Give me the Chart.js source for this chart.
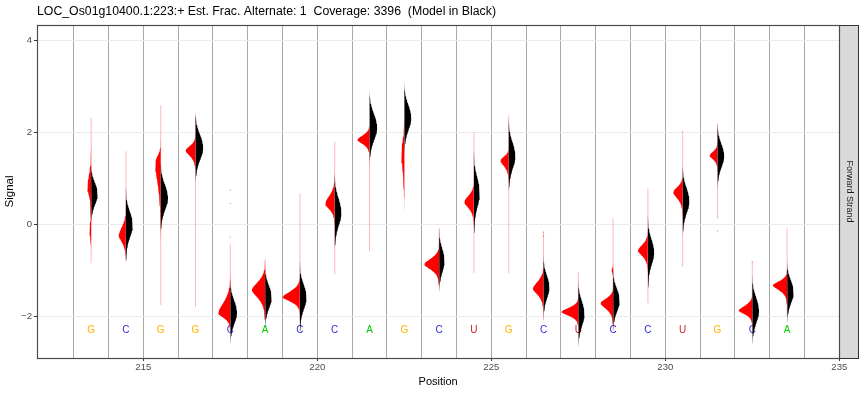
<!DOCTYPE html>
<html><head><meta charset="utf-8">
<script src="https://cdn.jsdelivr.net/npm/chart.js@4.4.1/dist/chart.umd.min.js"></script>
<style>html,body{margin:0;padding:0;background:#fff}</style>
</head><body>
<canvas id="c" width="866" height="394"></canvas>
<script>
// ---------- data ----------
const titleText = 'LOC_Os01g10400.1:223:+ Est. Frac. Alternate: 1  Coverage: 3396  (Model in Black)';
const bases = ['G','C','G','G','C','A','C','C','A','G','C','U','G','C','U','C','C','U','G','C','A'];
const positions = [213.5,214.5,215.5,216.5,217.5,218.5,219.5,220.5,221.5,222.5,223.5,224.5,225.5,226.5,227.5,228.5,229.5,230.5,231.5,232.5,233.5];
const boundaries = [213,214,215,216,217,218,219,220,221,222,223,224,225,226,227,228,229,230,231,232,233,234,235];
const xTickLabels = [215,220,225,230,235];
const yTicks = [-2,0,2,4];
const yTickLabels = ['\u22122','0','2','4'];

// observed signal (red, left half)
const obsPeak      = [0.81,-0.24,1.35,1.61,-1.94,-1.43,-1.59,0.45,1.84,1.60,-0.87,0.49,1.39,-1.40,-1.91,-1.72,-0.57,0.70,1.50,-1.88,-1.33];
const obsSpreadUp  = [0.79,0.54,0.40,0.29,0.69,0.50,0.37,0.51,0.28,0.66,0.35,0.39,0.25,0.44,0.26,0.29,0.37,0.33,0.25,0.30,0.26];
const obsSpreadDn  = [0.50,0.43,1.25,0.36,0.29,0.51,0.28,0.36,0.27,1.03,0.35,0.40,0.36,0.40,0.25,0.37,0.36,0.40,0.25,0.24,0.32];
const obsDensity   = [0.115,0.21,0.164,0.287,0.353,0.382,0.497,0.279,0.353,0.095,0.431,0.279,0.239,0.307,0.489,0.365,0.287,0.279,0.23,0.394,0.411];
const obsMin       = [-0.85,-0.67,-1.76,-1.80,-2.37,-2.09,-2.10,-1.09,-0.58,0.57,-1.30,-1.07,-1.07,-2.09,-2.20,-2.30,-1.72,-0.93,0.12,-2.40,-2.00];
const obsMax       = [2.32,1.59,2.59,2.37,-0.42,-0.77,0.67,1.79,2.10,2.26,-0.09,2.01,2.37,-0.17,-1.04,0.12,0.78,2.04,2.19,-0.82,-0.09];
const obsLobeY     = [-0.10,null,null,null,null,null,null,null,null,null,null,null,null,null,null,-1.00,null,null,null,null,null];
const obsLobeSd    = [0.15,null,null,null,null,null,null,null,null,null,null,null,null,null,null,0.05,null,null,null,null,null];
const obsLobeDens  = [0.052,null,null,null,null,null,null,null,null,null,null,null,null,null,null,0.043,null,null,null,null,null];
const outlierPos   = [217.5,217.5,217.5,226.5,226.5,231.5,232.5];
const outlierVal   = [0.74,0.45,-0.28,-0.17,-0.26,-0.15,-0.82];

// model (black, right half)
const modelMean    = [0.67,0.00,0.59,1.68,-1.91,-1.58,-1.58,0.27,2.12,2.33,-0.78,0.70,1.50,-1.36,-1.94,-1.65,-0.60,0.52,1.50,-1.87,-1.47];
const modelSd      = [0.23,0.27,0.27,0.27,0.25,0.24,0.26,0.29,0.28,0.27,0.25,0.31,0.28,0.24,0.26,0.24,0.27,0.27,0.25,0.27,0.24];
const modelDensity = [0.193,0.201,0.21,0.221,0.193,0.193,0.193,0.193,0.221,0.201,0.158,0.172,0.193,0.172,0.181,0.193,0.181,0.193,0.193,0.193,0.193];

const baseColors = {A:'#00CC00', C:'#2B2BDD', G:'#FFB300', U:'#D42020'};

// ---------- shape builder ----------
function halfShape(c, side, peak, sUp, sDn, w, p, zMax, lobe) {
  let yTop = peak + sUp * zMax, yBot = peak - sDn * zMax;
  if (lobe) { yTop = Math.max(yTop, lobe.y + lobe.s * 3.5); yBot = Math.min(yBot, lobe.y - lobe.s * 3.5); }
  const n = 160, pts = [{x: c, y: yTop}];
  for (let k = 0; k <= n; k++) {
    const yy = yTop + (yBot - yTop) * k / n;
    const z = (yy - peak) / (yy >= peak ? sUp : sDn);
    let d = w * Math.exp(-0.5 * Math.pow(Math.abs(z), p));
    if (lobe) d += lobe.w * Math.exp(-0.5 * Math.pow((yy - lobe.y) / lobe.s, 2));
    pts.push({x: c + side * d, y: yy});
  }
  pts.push({x: c, y: yBot});
  return pts;
}

const datasets = [];
positions.forEach((c, i) => {
  datasets.push({ data: [{x: c, y: obsMin[i]}, {x: c, y: obsMax[i]}], showLine: true, borderColor: 'rgba(255,0,0,0.28)', borderWidth: 1, pointRadius: 0, order: 4 });
  const lobe = obsLobeY[i] === null ? null : {y: obsLobeY[i], s: obsLobeSd[i], w: obsLobeDens[i]};
  datasets.push({ data: halfShape(c, -1, obsPeak[i], obsSpreadUp[i] / 3.2, obsSpreadDn[i] / 3.2, obsDensity[i], 1.6, 4.5, lobe),
    showLine: true, fill: 'shape', backgroundColor: '#FF0000', borderWidth: 0, pointRadius: 0, order: 2 });
  datasets.push({ data: halfShape(c, 1, modelMean[i], modelSd[i], modelSd[i], modelDensity[i], 2, 2.9, null),
    showLine: true, fill: 'shape', backgroundColor: '#000000', borderWidth: 0, pointRadius: 0, order: 1 });
});
datasets.push({ data: outlierPos.map((p, i) => ({x: p, y: outlierVal[i]})), pointRadius: 0.8, pointBorderWidth: 0, backgroundColor: 'rgba(255,0,0,0.35)', order: 3 });

const FONT = '"Liberation Sans", Arial, Helvetica, sans-serif';

const decor = {
  id: 'decor',
  beforeDatasetsDraw(chart) {
    const {ctx, scales: {x, y}} = chart;
    ctx.save();
    ctx.font = '10px ' + FONT;
    ctx.textAlign = 'center'; ctx.textBaseline = 'middle';
    bases.forEach((b, i) => {
      ctx.fillStyle = baseColors[b];
      ctx.fillText(b, x.getPixelForValue(positions[i]), y.getPixelForValue(-2.3));
    });
    ctx.restore();
  },
  afterDraw(chart) {
    const {ctx, chartArea: a} = chart;
    ctx.save();
    ctx.fillStyle = '#D9D9D9';
    ctx.fillRect(a.right + 0.5, a.top, 19, a.bottom - a.top);
    ctx.strokeStyle = '#333333'; ctx.lineWidth = 1;
    ctx.strokeRect(Math.round(a.right) + 0.5, Math.round(a.top) + 0.5, 19, Math.round(a.bottom - a.top));
    ctx.fillStyle = '#1A1A1A';
    ctx.font = '9px ' + FONT;
    ctx.translate(a.right + 10, (a.top + a.bottom) / 2);
    ctx.rotate(Math.PI / 2);
    ctx.textAlign = 'center'; ctx.textBaseline = 'middle';
    ctx.fillText('Forward Strand', 0, 0);
    ctx.restore();
    ctx.save();
    ctx.strokeStyle = '#4D4D4D'; ctx.lineWidth = 1.2;
    ctx.strokeRect(Math.round(a.left) + 0.5, Math.round(a.top) + 0.5, Math.round(a.right - a.left), Math.round(a.bottom - a.top));
    ctx.restore();
  }
};

new Chart(document.getElementById('c'), {
  type: 'scatter',
  data: { datasets },
  plugins: [decor],
  options: {
    responsive: false,
    animation: false,
    layout: { padding: { left: 0, right: 26.7, top: 0, bottom: 0 } },
    plugins: {
      legend: { display: false },
      tooltip: { enabled: false },
      title: { display: true, text: titleText, align: 'start', fullSize: false, color: '#000',
        font: { family: FONT, size: 12.3, weight: 'normal' }, padding: { top: 4.5, bottom: 5.7 } }
    },
    scales: {
      x: {
        type: 'linear', min: 211.945, max: 235,
        afterFit(s) { s.height = 36; },
        afterBuildTicks(s) { s.ticks = boundaries.map(v => ({value: v})); },
        ticks: { autoSkip: false, maxRotation: 0, padding: 1, color: '#4D4D4D', font: { family: FONT, size: 9.6 },
          callback: (v) => xTickLabels.includes(v) ? String(v) : '' },
        grid: { color: (ctx) => (ctx.tick && ctx.tick.value >= 235) ? 'rgba(0,0,0,0)' : '#A8A8A8', lineWidth: 1,
          tickLength: 3, tickColor: (ctx) => (ctx.tick && xTickLabels.includes(ctx.tick.value)) ? '#333333' : 'rgba(0,0,0,0)' },
        border: { display: false },
        title: { display: true, text: 'Position', color: '#000', font: { family: FONT, size: 11 }, padding: { top: 0, bottom: 5 } }
      },
      y: {
        type: 'linear', min: -2.915, max: 4.342,
        afterFit(s) { s.width = 37; },
        afterBuildTicks(s) { s.ticks = yTicks.map(v => ({value: v})); },
        ticks: { padding: 2, color: '#4D4D4D', font: { family: FONT, size: 9.6 },
          callback: (v) => { const k = yTicks.indexOf(v); return k >= 0 ? yTickLabels[k] : ''; } },
        grid: { color: '#EBEBEB', lineWidth: 1, tickLength: 3, tickColor: '#333333' },
        border: { display: false },
        title: { display: true, text: 'Signal', color: '#000', font: { family: FONT, size: 11.5 }, padding: { top: 3, bottom: 0 } }
      }
    }
  }
});
</script>
</body></html>
